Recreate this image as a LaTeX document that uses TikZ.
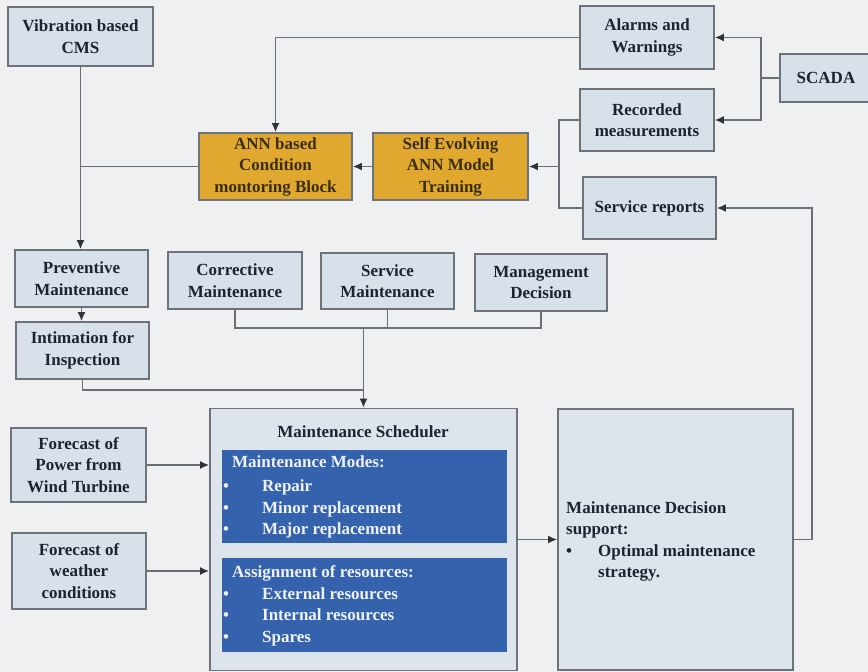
\documentclass[tikz,border=0pt]{standalone}
\usepackage{fontspec}
\setmainfont{Liberation Serif}
\usetikzlibrary{arrows.meta}
\definecolor{bg}{HTML}{EEF0F2}
\definecolor{boxc}{HTML}{D8E0EA}
\definecolor{bigc}{HTML}{DEE4EC}
\definecolor{bordc}{HTML}{6E7379}
\definecolor{linec}{HTML}{687076}
\definecolor{arrc}{HTML}{2E3338}
\definecolor{goldc}{HTML}{E0A82E}
\definecolor{goldtxt}{HTML}{3A2E10}
\definecolor{bluec}{HTML}{3562AC}
\definecolor{bluetxt}{HTML}{EEF2F8}
\definecolor{txtc}{HTML}{1C2432}
\begin{document}
\begin{tikzpicture}[x=1pt,y=-1pt,
  font=\fontsize{17}{21.5}\selectfont\bfseries,
  lbox/.style={draw=bordc, line width=1.6pt, fill=boxc, text=txtc, align=center, inner sep=0pt},
  gbox/.style={lbox, fill=goldc, text=goldtxt},
  bigbox/.style={lbox, fill=bigc},
  bbox/.style={draw=none, fill=bluec, inner sep=0pt},
  btext/.style={text=bluetxt, align=left, inner sep=0pt, anchor=north west},
  dtext/.style={text=txtc, align=left, inner sep=0pt, anchor=north west},
  sz/.style 2 args={minimum width=#1pt, minimum height=#2pt},
  conn/.style={draw=linec, line width=1.7pt},
  arr/.style={conn, -{Latex[length=9pt,width=8pt,color=arrc]}},
]
\useasboundingbox[fill=bg] (0,0) rectangle (868,672);

% top area
\node[lbox, sz={145}{59}] (cms) at (80.5,36.5) {Vibration based\\CMS};
\node[lbox, sz={134}{63}] (alarms) at (647,37.5) {Alarms and\\Warnings};
\node[lbox, sz={134}{62}] (recorded) at (647,120) {Recorded\\measurements};
\node[lbox, sz={133}{62}] (service) at (649.5,208) {Service reports};
\node[lbox, sz={92}{48}] (scada) at (826,78) {SCADA};
\node[gbox, sz={153}{67}] (ann) at (275.5,166.5) {ANN based\\Condition\\montoring Block};
\node[gbox, sz={155}{67}] (self) at (450.5,166.5) {Self Evolving\\ANN Model\\Training};

% maintenance row
\node[lbox, sz={133}{57}] (prev) at (81.5,278.5) {Preventive\\Maintenance};
\node[lbox, sz={133}{57}] (intim) at (82.5,350.5) {Intimation for\\Inspection};
\node[lbox, sz={134}{57}] (corr) at (235,280.5) {Corrective\\Maintenance};
\node[lbox, sz={133}{56}] (servm) at (387.5,281) {Service\\Maintenance};
\node[lbox, sz={132}{57}] (mgmt) at (541,282.5) {Management\\Decision};

% forecasts
\node[lbox, sz={135}{74}] (power) at (78.5,465) {Forecast of\\Power from\\Wind Turbine};
\node[lbox, sz={134}{76}] (weather) at (79,571) {Forecast of\\weather\\conditions};

% scheduler
\node[bigbox, sz={307}{262}] (sched) at (363.5,539.5) {};
\node[text=txtc, inner sep=0pt] (schedtitle) at (363,432) {Maintenance Scheduler};
\node[bbox, sz={285}{93}] (modes) at (364.5,496.5) {};
\node[btext] (modestxt) at (232,455) {Maintenance Modes:\\[3pt]
  \hspace*{-9pt}\makebox[39pt][l]{•}Repair\\
  \hspace*{-9pt}\makebox[39pt][l]{•}Minor replacement\\
  \hspace*{-9pt}\makebox[39pt][l]{•}Major replacement};
\node[bbox, sz={285}{94}] (res) at (364.5,605) {};
\node[btext] (restxt) at (232,565.5) {Assignment of resources:\\
  \hspace*{-9pt}\makebox[39pt][l]{•}External resources\\
  \hspace*{-9pt}\makebox[39pt][l]{•}Internal resources\\
  \hspace*{-9pt}\makebox[39pt][l]{•}Spares};

% decision support
\node[bigbox, sz={235}{261}] (dec) at (675.5,539.5) {};
\node[dtext] (dectxt) at (566,501) {Maintenance Decision\\support:\\
  \makebox[32pt][l]{•}Optimal maintenance\\
  \hspace*{32pt}strategy.};

% connectors
\draw[arr] (alarms.west) -| (ann.north);
\coordinate (sj) at (761,78);
\draw[conn] (scada.west) -- (sj);
\draw[arr] (sj) |- (alarms.east);
\draw[arr] (sj) |- (recorded.east);
\coordinate (rj) at (559,166.5);
\draw[conn] (recorded.west) -| (rj) |- (service.west);
\draw[arr] (rj) -- (self.east);
\draw[arr] (self.west) -- (ann.east);
\draw[conn] (ann.west) -- (ann.west -| cms.south);
\draw[arr] (cms.south) -- (cms.south |- prev.north);
\draw[arr] (prev.south) -- (prev.south |- intim.north);

\coordinate (mj) at (363.5,328);
\draw[conn] (corr.south) -- (corr.south |- mj) -- (mgmt.south |- mj) -- (mgmt.south);
\draw[conn] (servm.south) -- (servm.south |- mj);
\coordinate (ij) at (363.5,390);
\draw[conn] (intim.south) |- (ij);
\draw[arr] (mj) -- (sched.north);

\draw[arr] (power.east) -- (power.east -| sched.west);
\draw[arr] (weather.east) -- (weather.east -| sched.west);
\draw[arr] (sched.east) -- (dec.west);
\coordinate (fb) at (812,539.5);
\draw[arr] (dec.east) -- (fb) |- (service.east);
\end{tikzpicture}
\end{document}
